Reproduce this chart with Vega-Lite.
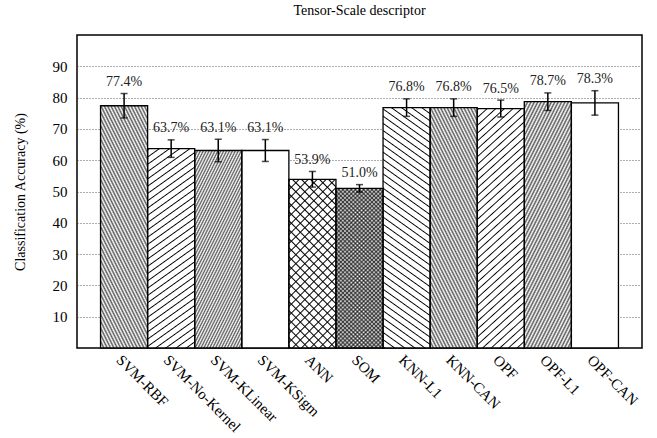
{
  "$schema": "https://vega.github.io/schema/vega-lite/v6.json",
  "width": 565,
  "height": 313,
  "autosize": {"type": "none"},
  "padding": {"left": 77, "top": 35, "right": 15, "bottom": 90},
  "background": "white",
  "title": {"text": "Tensor-Scale descriptor", "font": "Liberation Serif", "fontSize": 14, "fontWeight": "normal", "color": "#000", "anchor": "middle", "offset": 17},
  "config": {"view": {"stroke": "#000", "strokeWidth": 1.5}, "axis": {"labelOverlap": false}, "axisY": {"labelOverlap": false, "tickCount": 20, "grid": true, "gridDash": [1, 2], "gridColor": "#333", "gridWidth": 0.8, "ticks": false, "domain": false, "labelPadding": 10, "labelFont": "Liberation Serif", "labelFontSize": 15, "labelColor": "#000", "titleFont": "Liberation Serif", "titleFontSize": 14, "titleFontWeight": "normal", "titleColor": "#000", "titlePadding": 25}},
  "params": [
    {"name": "DS", "value": [
      {"offset":0,"color":"#000"},{"offset":0.01,"color":"transparent"},{"offset":0.02,"color":"#000"},{"offset":0.03,"color":"transparent"},{"offset":0.04,"color":"#000"},{"offset":0.05,"color":"transparent"},{"offset":0.06,"color":"#000"},{"offset":0.07,"color":"transparent"},{"offset":0.08,"color":"#000"},{"offset":0.09,"color":"transparent"},
      {"offset":0.1,"color":"#000"},{"offset":0.11,"color":"transparent"},{"offset":0.12,"color":"#000"},{"offset":0.13,"color":"transparent"},{"offset":0.14,"color":"#000"},{"offset":0.15,"color":"transparent"},{"offset":0.16,"color":"#000"},{"offset":0.17,"color":"transparent"},{"offset":0.18,"color":"#000"},{"offset":0.19,"color":"transparent"},
      {"offset":0.2,"color":"#000"},{"offset":0.21,"color":"transparent"},{"offset":0.22,"color":"#000"},{"offset":0.23,"color":"transparent"},{"offset":0.24,"color":"#000"},{"offset":0.25,"color":"transparent"},{"offset":0.26,"color":"#000"},{"offset":0.27,"color":"transparent"},{"offset":0.28,"color":"#000"},{"offset":0.29,"color":"transparent"},
      {"offset":0.3,"color":"#000"},{"offset":0.31,"color":"transparent"},{"offset":0.32,"color":"#000"},{"offset":0.33,"color":"transparent"},{"offset":0.34,"color":"#000"},{"offset":0.35,"color":"transparent"},{"offset":0.36,"color":"#000"},{"offset":0.37,"color":"transparent"},{"offset":0.38,"color":"#000"},{"offset":0.39,"color":"transparent"},
      {"offset":0.4,"color":"#000"},{"offset":0.41,"color":"transparent"},{"offset":0.42,"color":"#000"},{"offset":0.43,"color":"transparent"},{"offset":0.44,"color":"#000"},{"offset":0.45,"color":"transparent"},{"offset":0.46,"color":"#000"},{"offset":0.47,"color":"transparent"},{"offset":0.48,"color":"#000"},{"offset":0.49,"color":"transparent"},
      {"offset":0.5,"color":"#000"},{"offset":0.51,"color":"transparent"},{"offset":0.52,"color":"#000"},{"offset":0.53,"color":"transparent"},{"offset":0.54,"color":"#000"},{"offset":0.55,"color":"transparent"},{"offset":0.56,"color":"#000"},{"offset":0.57,"color":"transparent"},{"offset":0.58,"color":"#000"},{"offset":0.59,"color":"transparent"},
      {"offset":0.6,"color":"#000"},{"offset":0.61,"color":"transparent"},{"offset":0.62,"color":"#000"},{"offset":0.63,"color":"transparent"},{"offset":0.64,"color":"#000"},{"offset":0.65,"color":"transparent"},{"offset":0.66,"color":"#000"},{"offset":0.67,"color":"transparent"},{"offset":0.68,"color":"#000"},{"offset":0.69,"color":"transparent"},
      {"offset":0.7,"color":"#000"},{"offset":0.71,"color":"transparent"},{"offset":0.72,"color":"#000"},{"offset":0.73,"color":"transparent"},{"offset":0.74,"color":"#000"},{"offset":0.75,"color":"transparent"},{"offset":0.76,"color":"#000"},{"offset":0.77,"color":"transparent"},{"offset":0.78,"color":"#000"},{"offset":0.79,"color":"transparent"},
      {"offset":0.8,"color":"#000"},{"offset":0.81,"color":"transparent"},{"offset":0.82,"color":"#000"},{"offset":0.83,"color":"transparent"},{"offset":0.84,"color":"#000"},{"offset":0.85,"color":"transparent"},{"offset":0.86,"color":"#000"},{"offset":0.87,"color":"transparent"},{"offset":0.88,"color":"#000"},{"offset":0.89,"color":"transparent"},
      {"offset":0.9,"color":"#000"},{"offset":0.91,"color":"transparent"},{"offset":0.92,"color":"#000"},{"offset":0.93,"color":"transparent"},{"offset":0.94,"color":"#000"},{"offset":0.95,"color":"transparent"},{"offset":0.96,"color":"#000"},{"offset":0.97,"color":"transparent"},{"offset":0.98,"color":"#000"},{"offset":0.99,"color":"transparent"},
      {"offset":1,"color":"#000"}
    ]},
    {"name": "SS", "value": [
      {"offset":0,"color":"transparent"},{"offset":0.004,"color":"#000"},{"offset":0.008,"color":"transparent"},
      {"offset":0.025,"color":"transparent"},{"offset":0.029,"color":"#000"},{"offset":0.033,"color":"transparent"},
      {"offset":0.05,"color":"transparent"},{"offset":0.054,"color":"#000"},{"offset":0.058,"color":"transparent"},
      {"offset":0.075,"color":"transparent"},{"offset":0.079,"color":"#000"},{"offset":0.083,"color":"transparent"},
      {"offset":0.1,"color":"transparent"},{"offset":0.104,"color":"#000"},{"offset":0.108,"color":"transparent"},
      {"offset":0.125,"color":"transparent"},{"offset":0.129,"color":"#000"},{"offset":0.133,"color":"transparent"},
      {"offset":0.15,"color":"transparent"},{"offset":0.154,"color":"#000"},{"offset":0.158,"color":"transparent"},
      {"offset":0.175,"color":"transparent"},{"offset":0.179,"color":"#000"},{"offset":0.183,"color":"transparent"},
      {"offset":0.2,"color":"transparent"},{"offset":0.204,"color":"#000"},{"offset":0.208,"color":"transparent"},
      {"offset":0.225,"color":"transparent"},{"offset":0.229,"color":"#000"},{"offset":0.233,"color":"transparent"},
      {"offset":0.25,"color":"transparent"},{"offset":0.254,"color":"#000"},{"offset":0.258,"color":"transparent"},
      {"offset":0.275,"color":"transparent"},{"offset":0.279,"color":"#000"},{"offset":0.283,"color":"transparent"},
      {"offset":0.3,"color":"transparent"},{"offset":0.304,"color":"#000"},{"offset":0.308,"color":"transparent"},
      {"offset":0.325,"color":"transparent"},{"offset":0.329,"color":"#000"},{"offset":0.333,"color":"transparent"},
      {"offset":0.35,"color":"transparent"},{"offset":0.354,"color":"#000"},{"offset":0.358,"color":"transparent"},
      {"offset":0.375,"color":"transparent"},{"offset":0.379,"color":"#000"},{"offset":0.383,"color":"transparent"},
      {"offset":0.4,"color":"transparent"},{"offset":0.404,"color":"#000"},{"offset":0.408,"color":"transparent"},
      {"offset":0.425,"color":"transparent"},{"offset":0.429,"color":"#000"},{"offset":0.433,"color":"transparent"},
      {"offset":0.45,"color":"transparent"},{"offset":0.454,"color":"#000"},{"offset":0.458,"color":"transparent"},
      {"offset":0.475,"color":"transparent"},{"offset":0.479,"color":"#000"},{"offset":0.483,"color":"transparent"},
      {"offset":0.5,"color":"transparent"},{"offset":0.504,"color":"#000"},{"offset":0.508,"color":"transparent"},
      {"offset":0.525,"color":"transparent"},{"offset":0.529,"color":"#000"},{"offset":0.533,"color":"transparent"},
      {"offset":0.55,"color":"transparent"},{"offset":0.554,"color":"#000"},{"offset":0.558,"color":"transparent"},
      {"offset":0.575,"color":"transparent"},{"offset":0.579,"color":"#000"},{"offset":0.583,"color":"transparent"},
      {"offset":0.6,"color":"transparent"},{"offset":0.604,"color":"#000"},{"offset":0.608,"color":"transparent"},
      {"offset":0.625,"color":"transparent"},{"offset":0.629,"color":"#000"},{"offset":0.633,"color":"transparent"},
      {"offset":0.65,"color":"transparent"},{"offset":0.654,"color":"#000"},{"offset":0.658,"color":"transparent"},
      {"offset":0.675,"color":"transparent"},{"offset":0.679,"color":"#000"},{"offset":0.683,"color":"transparent"},
      {"offset":0.7,"color":"transparent"},{"offset":0.704,"color":"#000"},{"offset":0.708,"color":"transparent"},
      {"offset":0.725,"color":"transparent"},{"offset":0.729,"color":"#000"},{"offset":0.733,"color":"transparent"},
      {"offset":0.75,"color":"transparent"},{"offset":0.754,"color":"#000"},{"offset":0.758,"color":"transparent"},
      {"offset":0.775,"color":"transparent"},{"offset":0.779,"color":"#000"},{"offset":0.783,"color":"transparent"},
      {"offset":0.8,"color":"transparent"},{"offset":0.804,"color":"#000"},{"offset":0.808,"color":"transparent"},
      {"offset":0.825,"color":"transparent"},{"offset":0.829,"color":"#000"},{"offset":0.833,"color":"transparent"},
      {"offset":0.85,"color":"transparent"},{"offset":0.854,"color":"#000"},{"offset":0.858,"color":"transparent"},
      {"offset":0.875,"color":"transparent"},{"offset":0.879,"color":"#000"},{"offset":0.883,"color":"transparent"},
      {"offset":0.9,"color":"transparent"},{"offset":0.904,"color":"#000"},{"offset":0.908,"color":"transparent"},
      {"offset":0.925,"color":"transparent"},{"offset":0.929,"color":"#000"},{"offset":0.933,"color":"transparent"},
      {"offset":0.95,"color":"transparent"},{"offset":0.954,"color":"#000"},{"offset":0.958,"color":"transparent"},
      {"offset":0.975,"color":"transparent"},{"offset":0.979,"color":"#000"},{"offset":0.983,"color":"transparent"},
      {"offset":1,"color":"transparent"}
    ]}
  ],
  "data": {"values": [
    {"m": "SVM-RBF", "acc": 77.4, "lo": 73.5, "hi": 81.3, "label": "77.4%"},
    {"m": "SVM-No-Kernel", "acc": 63.7, "lo": 60.9, "hi": 66.5, "label": "63.7%"},
    {"m": "SVM-KLinear", "acc": 63.1, "lo": 59.5, "hi": 66.7, "label": "63.1%"},
    {"m": "SVM-KSigm", "acc": 63.1, "lo": 59.6, "hi": 66.6, "label": "63.1%"},
    {"m": "ANN", "acc": 53.9, "lo": 51.4, "hi": 56.4, "label": "53.9%"},
    {"m": "SOM", "acc": 51.0, "lo": 49.8, "hi": 52.2, "label": "51.0%"},
    {"m": "KNN-L1", "acc": 76.8, "lo": 74.0, "hi": 79.6, "label": "76.8%"},
    {"m": "KNN-CAN", "acc": 76.8, "lo": 74.0, "hi": 79.6, "label": "76.8%"},
    {"m": "OPF", "acc": 76.5, "lo": 73.8, "hi": 79.2, "label": "76.5%"},
    {"m": "OPF-L1", "acc": 78.7, "lo": 75.9, "hi": 81.5, "label": "78.7%"},
    {"m": "OPF-CAN", "acc": 78.3, "lo": 74.4, "hi": 82.2, "label": "78.3%"}
  ]},
  "encoding": {
    "x": {"field": "m", "type": "nominal", "sort": null, "title": null,
      "scale": {"paddingInner": 0, "paddingOuter": 0.5},
      "axis": {"labelAngle": 45, "labelAlign": "left", "labelBaseline": "top", "ticks": false, "domain": false, "grid": false, "labelPadding": 4, "labelOverlap": false, "labelFont": "Liberation Serif", "labelFontSize": 15, "labelColor": "#000"}}
  },
  "layer": [
    {"mark": {"type": "bar", "fill": "#fff", "strokeWidth": 0},
     "encoding": {"y": {"field": "acc", "type": "quantitative", "title": "Classification Accuracy (%)",
       "scale": {"domain": [0, 100], "nice": false},
       "axis": {"values": [10, 20, 30, 40, 50, 60, 70, 80, 90], "tickCount": 20, "labelOverlap": false}}}},
    {"transform": [{"filter": {"field": "m", "oneOf": ["SVM-RBF", "KNN-CAN"]}}],
     "mark": {"type": "bar", "strokeWidth": 0, "fillOpacity": 0.65, "fill": {"expr": "{gradient:'linear',x1:0,y1:1,x2:0.4734,y2:-0.2067,stops:DS}"}},
     "encoding": {"y": {"field": "acc", "type": "quantitative", "title": "Classification Accuracy (%)"}}},
    {"transform": [{"filter": {"field": "m", "equal": "SVM-KLinear"}}],
     "mark": {"type": "bar", "strokeWidth": 0, "fillOpacity": 0.65, "fill": {"expr": "{gradient:'linear',x1:0,y1:0,x2:0.5736,y2:1.2033,stops:DS}"}},
     "encoding": {"y": {"field": "acc", "type": "quantitative", "title": "Classification Accuracy (%)"}}},
    {"transform": [{"filter": {"field": "m", "equal": "OPF-L1"}}],
     "mark": {"type": "bar", "strokeWidth": 0, "fillOpacity": 0.65, "fill": {"expr": "{gradient:'linear',x1:0,y1:0,x2:0.4612,y2:1.2061,stops:DS}"}},
     "encoding": {"y": {"field": "acc", "type": "quantitative", "title": "Classification Accuracy (%)"}}},
    {"transform": [{"filter": {"field": "m", "equal": "SOM"}}],
     "mark": {"type": "bar", "strokeWidth": 0, "fillOpacity": 0.65, "fill": {"expr": "{gradient:'linear',x1:0,y1:0,x2:0.3504,y2:1.1911,stops:DS}"}},
     "encoding": {"y": {"field": "acc", "type": "quantitative", "title": "Classification Accuracy (%)"}}},
    {"transform": [{"filter": {"field": "m", "equal": "SOM"}}],
     "mark": {"type": "bar", "strokeWidth": 0, "fillOpacity": 0.65, "fill": {"expr": "{gradient:'linear',x1:0,y1:1,x2:0.3504,y2:-0.1911,stops:DS}"}},
     "encoding": {"y": {"field": "acc", "type": "quantitative", "title": "Classification Accuracy (%)"}}},
    {"transform": [{"filter": {"field": "m", "equal": "ANN"}}],
     "mark": {"type": "bar", "strokeWidth": 0, "fill": {"expr": "{gradient:'linear',x1:0,y1:0,x2:0.5509,y2:1.9774,stops:SS}"}},
     "encoding": {"y": {"field": "acc", "type": "quantitative", "title": "Classification Accuracy (%)"}}},
    {"transform": [{"filter": {"field": "m", "equal": "ANN"}}],
     "mark": {"type": "bar", "strokeWidth": 0, "fill": {"expr": "{gradient:'linear',x1:0,y1:1,x2:0.5509,y2:-0.9774,stops:SS}"}},
     "encoding": {"y": {"field": "acc", "type": "quantitative", "title": "Classification Accuracy (%)"}}},
    {"transform": [{"filter": {"field": "m", "equal": "SVM-No-Kernel"}}],
     "mark": {"type": "bar", "strokeWidth": 0, "fill": {"expr": "{gradient:'linear',x1:0,y1:0,x2:0.2401,y2:1.4208,stops:SS}"}},
     "encoding": {"y": {"field": "acc", "type": "quantitative", "title": "Classification Accuracy (%)"}}},
    {"transform": [{"filter": {"field": "m", "equal": "OPF"}}],
     "mark": {"type": "bar", "strokeWidth": 0, "fill": {"expr": "{gradient:'linear',x1:0,y1:0,x2:0.2270,y2:1.2692,stops:SS}"}},
     "encoding": {"y": {"field": "acc", "type": "quantitative", "title": "Classification Accuracy (%)"}}},
    {"transform": [{"filter": {"field": "m", "equal": "KNN-L1"}}],
     "mark": {"type": "bar", "strokeWidth": 0, "fill": {"expr": "{gradient:'linear',x1:0,y1:1,x2:0.1646,y2:-0.1768,stops:SS}"}},
     "encoding": {"y": {"field": "acc", "type": "quantitative", "title": "Classification Accuracy (%)"}}},
    {"mark": {"type": "bar", "filled": false, "stroke": "#000", "strokeWidth": 1.3},
     "encoding": {"y": {"field": "acc", "type": "quantitative", "title": "Classification Accuracy (%)"}}},
    {"mark": {"type": "rule", "color": "#000", "strokeWidth": 1.5},
     "encoding": {"y": {"field": "lo", "type": "quantitative", "title": "Classification Accuracy (%)"}, "y2": {"field": "hi"}}},
    {"mark": {"type": "tick", "orient": "horizontal", "color": "#000", "size": 7, "thickness": 1.5},
     "encoding": {"y": {"field": "lo", "type": "quantitative", "title": "Classification Accuracy (%)"}}},
    {"mark": {"type": "tick", "orient": "horizontal", "color": "#000", "size": 7, "thickness": 1.5},
     "encoding": {"y": {"field": "hi", "type": "quantitative", "title": "Classification Accuracy (%)"}}},
    {"mark": {"type": "text", "font": "Liberation Serif", "fontSize": 14, "baseline": "middle", "dy": -11.5, "color": "#222"},
     "encoding": {"y": {"field": "hi", "type": "quantitative", "title": "Classification Accuracy (%)"}, "text": {"field": "label"}}}
  ]
}
